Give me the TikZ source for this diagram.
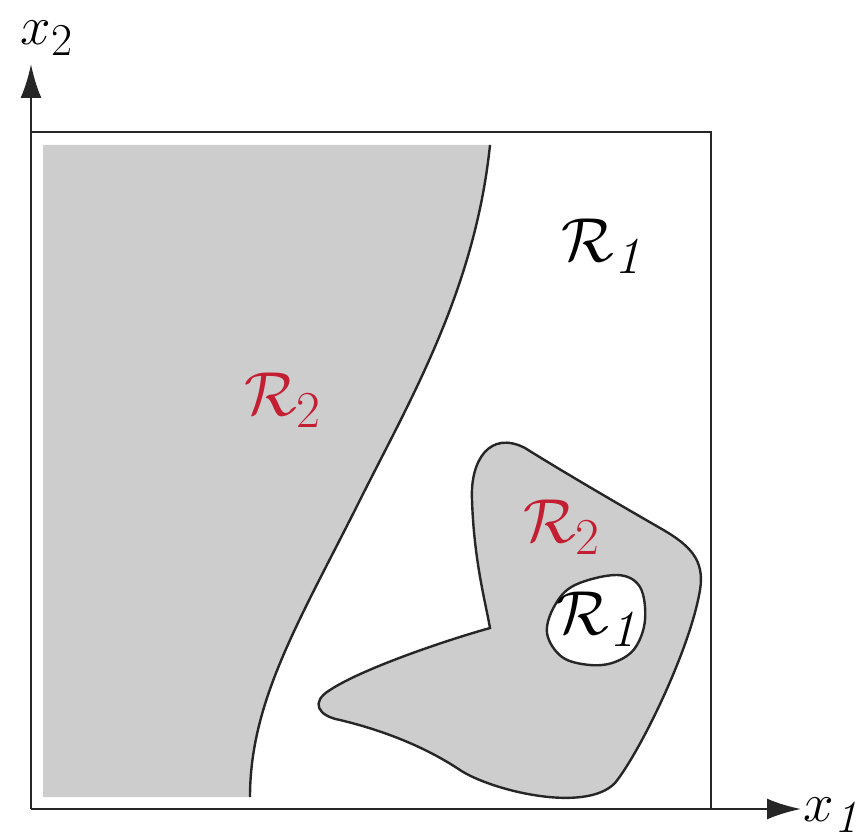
\documentclass[tikz,border=0pt]{standalone}
\usetikzlibrary{arrows.meta}
\definecolor{regiongray}{RGB}{205,205,205}
\definecolor{labelred}{RGB}{195,30,50}
\tikzset{
  lbl/.style={inner sep=0pt, font=\Huge, scale=2.5},
  axislbl/.style={inner sep=0pt, font=\Huge, scale=2.2},
  boundary/.style={line width=2.4pt, black!85},
  axisline/.style={line width=2.6pt, black!85},
  arrowline/.style={line width=2.6pt, black!85, -{Latex[length=34pt,width=21pt]}}
}
\begin{document}
\begin{tikzpicture}[x=1pt,y=-1pt]
\useasboundingbox (0,0) rectangle (862,840);
% axes and frame
\coordinate (O) at (31,809);
\coordinate (Ytip) at (31,64);
\coordinate (Xtip) at (801,809);
\coordinate (TL) at (31,132);
\coordinate (TR) at (711,132);
\coordinate (BR) at (711,809);
% left grey region
\fill[regiongray] (43,145) -- (490,145) .. controls (475,290) and (410,400) .. (360,500) .. controls (300,620) and (250,700) .. (250,797) -- (43,797) -- cycle;
\draw[boundary] (490,145) .. controls (475,290) and (410,400) .. (360,500) .. controls (300,620) and (250,700) .. (250,797);
% blob
\draw[boundary, fill=regiongray] (490,628) .. controls (440,642) and (360,670) .. (330,690)
  .. controls (310,702) and (318,716) .. (340,720)
  .. controls (390,732) and (430,750) .. (460,770)
  .. controls (490,790) and (585,814) .. (615,783)
  .. controls (640,752) and (690,650) .. (700,590)
  .. controls (705,560) and (690,545) .. (660,528)
  .. controls (620,505) and (560,470) .. (525,448)
  .. controls (490,430) and (470,460) .. (472,500)
  .. controls (474,560) and (485,600) .. (490,628) -- cycle;
% hole
\draw[boundary, fill=white] plot[smooth cycle, tension=0.6] coordinates {(617,575) (640,587) (645,620) (635,648) (615,662) (590,665) (562,657) (547,633) (555,605) (575,585)};
% frame and axes
\draw[axisline] (TL) -- (TR) -- (BR);
\draw[arrowline] (O) -- (Ytip);
\draw[arrowline] (O) -- (Xtip);
% labels
\node[axislbl] (x2) at (47,38) {$x_2$};
\node[axislbl] (x1) at (834,815) {$x_{\mathit{1}}$};
\node[lbl] (r1a) at (605,246) {$\mathcal{R}_{\mathit{1}}$};
\node[lbl, text=labelred] (r2a) at (283,400) {$\mathcal{R}_2$};
\node[lbl, text=labelred] (r2b) at (562,527) {$\mathcal{R}_2$};
\node[lbl] (r1b) at (600,619) {$\mathcal{R}_{\mathit{1}}$};
\end{tikzpicture}
\end{document}
